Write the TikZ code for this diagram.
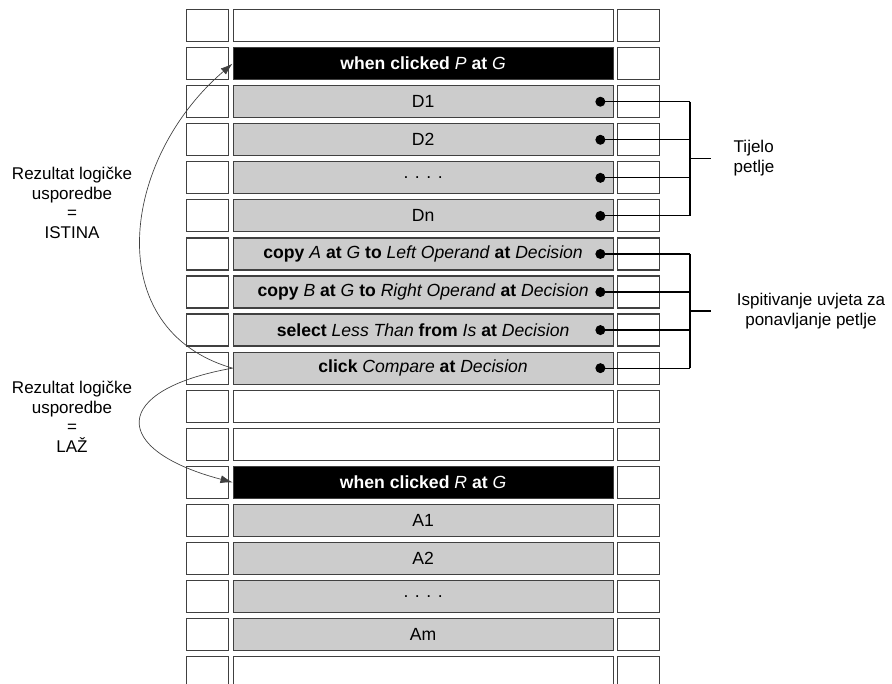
\documentclass[tikz,border=0pt]{standalone}
\usepackage{fontspec}
\setmainfont{Liberation Sans}
\usetikzlibrary{arrows.meta,calc}
\begin{document}
\begin{tikzpicture}[x=0.75pt,y=-0.75pt,
  cell/.style={draw=black!75, line width=0.9pt, minimum height=24pt, inner sep=0pt, anchor=north west, font=\fontsize{13.2}{15}\selectfont},
  side/.style={cell, fill=white, minimum width=31.5pt},
  main/.style={cell, minimum width=285pt},
  grey/.style={main, fill=black!20},
  head/.style={main, fill=black, text=white},
  empty/.style={main, fill=white},
  pin/.style={circle, fill=black, inner sep=0pt, minimum size=7.5pt},
  link/.style={line width=0.9pt},
  jump/.style={line width=0.5pt, draw=black!75, -{Latex[length=9pt,width=6pt]}},
  lbl/.style={align=center, font=\fontsize{12.75}{14.6}\selectfont}
]
\useasboundingbox (0,0) rectangle (892,684);
\fill[white] (0,0) rectangle (892,684);

\foreach \i in {0,...,17} {
  \node[side] (L\i) at (186,{9+38.06*\i}) {};
  \node[side] (R\i) at (617,{9+38.06*\i}) {};
}

\node[empty] (M0)  at (232.5,{9+38.06*0}) {};
\node[head]  (M1)  at (232.5,{9+38.06*1}) {\textbf{when clicked} \textit{P} \textbf{at} \textit{G}};
\node[grey]  (M2)  at (232.5,{9+38.06*2}) {D1};
\node[grey]  (M3)  at (232.5,{9+38.06*3}) {D2};
\node[grey]  (M4)  at (232.5,{9+38.06*4}) {. . . .};
\node[grey]  (M5)  at (232.5,{9+38.06*5}) {Dn};
\node[grey]  (M6)  at (232.5,{9+38.06*6}) {\textbf{copy} \textit{A} \textbf{at} \textit{G} \textbf{to} \textit{Left Operand} \textbf{at} \textit{Decision}};
\node[grey]  (M7)  at (232.5,{9+38.06*7}) {\textbf{copy} \textit{B} \textbf{at} \textit{G} \textbf{to} \textit{Right Operand} \textbf{at} \textit{Decision}};
\node[grey]  (M8)  at (232.5,{9+38.06*8}) {\textbf{select} \textit{Less Than} \textbf{from} \textit{Is} \textbf{at} \textit{Decision}};
\node[grey]  (M9)  at (232.5,{9+38.06*9}) {\textbf{click} \textit{Compare} \textbf{at} \textit{Decision}};
\node[empty] (M10) at (232.5,{9+38.06*10}) {};
\node[empty] (M11) at (232.5,{9+38.06*11}) {};
\node[head]  (M12) at (232.5,{9+38.06*12}) {\textbf{when clicked} \textit{R} \textbf{at} \textit{G}};
\node[grey]  (M13) at (232.5,{9+38.06*13}) {A1};
\node[grey]  (M14) at (232.5,{9+38.06*14}) {A2};
\node[grey]  (M15) at (232.5,{9+38.06*15}) {. . . .};
\node[grey]  (M16) at (232.5,{9+38.06*16}) {Am};
\node[empty] (M17) at (232.5,{9+38.06*17}) {};

% dots
\foreach \i in {2,...,9} {
  \node[pin] (P\i) at ([xshift=-10pt]M\i.east) {};
}

% brackets
\coordinate (BX) at (690,0);
\foreach \i in {2,...,9} {
  \draw[link] (P\i.center) -- (P\i -| BX);
}
\draw[link] (P2 -| BX) -- (P5 -| BX);
\draw[link] (P6 -| BX) -- (P9 -| BX);
\coordinate (TM) at ($(P2 -| BX)!0.5!(P5 -| BX)$);
\coordinate (IM) at ($(P6 -| BX)!0.5!(P9 -| BX)$);
\coordinate (TE) at ($(TM)+(21,0)$);
\coordinate (IE) at ($(IM)+(21,0)$);
\draw[link] (TM) -- (TE);
\draw[link] (IM) -- (IE);

\node[lbl, anchor=west, align=left] (T) at (729,158) {Tijelo\\petlje};
\node[lbl] (I) at (811,311) {Ispitivanje uvjeta za\\ponavljanje petlje};

% left labels
\node[lbl] (Y) at (72,203) {Rezultat logičke\\usporedbe\\=\\ISTINA};
\node[lbl] (N) at (72,417) {Rezultat logičke\\usporedbe\\=\\LAŽ};

% jumps
\draw[jump] (M9.west) .. controls (100,330) and (120,160) .. (M1.west);
\draw[jump] (M9.west) .. controls (110,390) and (110,450) .. (M12.west);
\end{tikzpicture}
\end{document}
